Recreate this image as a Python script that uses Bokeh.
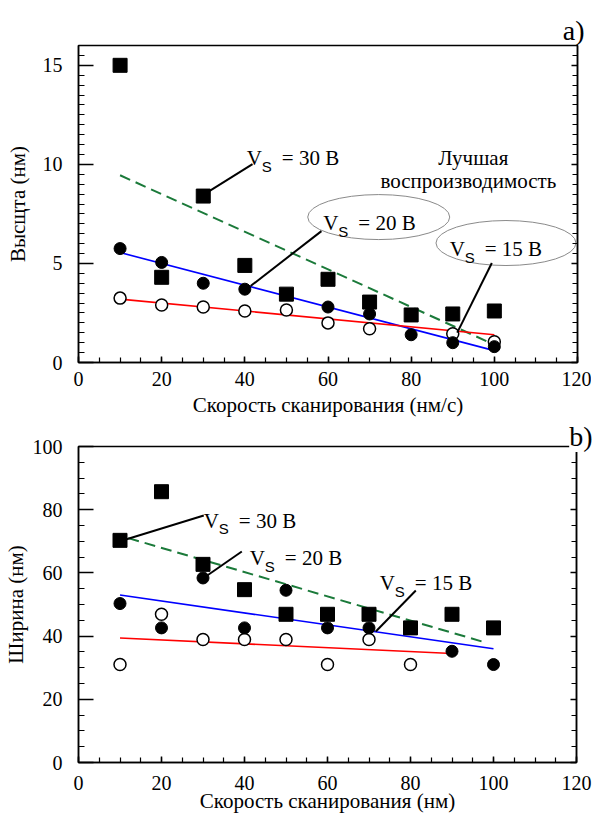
from bokeh.plotting import figure
from bokeh.layouts import column
from bokeh.models import SingleIntervalTicker, LinearAxis, CustomJSTickFormatter
from bokeh.core.properties import value
from bokeh.embed import file_html
from bokeh.resources import INLINE

# ---------------- data ----------------
# panel a: height vs scan speed
speed = [10, 20, 30, 40, 50, 60, 70, 80, 90, 100]
h_30 = [15.0, 4.3, 8.4, 4.9, 3.45, 4.2, 3.05, 2.4, 2.45, 2.6]
speed_h20 = [10, 20, 30, 40, 60, 70, 80, 90, 100]
h_20 = [5.75, 5.05, 4.0, 3.7, 2.8, 2.45, 1.4, 1.0, 0.8]
speed_h15 = [10, 20, 30, 40, 50, 60, 70, 90, 100]
h_15 = [3.25, 2.9, 2.8, 2.6, 2.65, 2.0, 1.7, 1.45, 1.05]
fit_a_x = [10, 100]
fit_a_30 = [9.45, 0.9]
fit_a_20 = [5.55, 0.6]
fit_a_15 = [3.2, 1.4]

# panel b: width vs scan speed
w_30 = [70.3, 85.7, 62.7, 54.7, 46.9, 46.9, 46.9, 42.6, 46.9, 42.6]
speed_w20 = [10, 20, 30, 40, 50, 60, 70, 90, 100]
w_20 = [50.3, 42.6, 58.4, 42.6, 54.5, 42.6, 42.6, 35.2, 31.0]
speed_w15 = [10, 20, 30, 40, 50, 60, 70, 80]
w_15 = [31.0, 46.9, 38.9, 38.9, 38.9, 31.0, 38.9, 31.0]
fit_b30_x = [12, 98]
fit_b30 = [71, 38]
fit_b20_x = [10, 100]
fit_b20 = [53, 36]
fit_b15_x = [10, 90]
fit_b15 = [39.4, 34.5]

SERIF = "Liberation Serif"
GREEN = "#1b7a3a"


def style(p, y_interval, y_minor, xl_standoff, yl_standoff, xlab_standoff):
    p.grid.visible = False
    p.outline_line_color = "black"
    p.outline_line_width = 1.5
    p.background_fill_color = "white"
    p.border_fill_color = "white"
    p.xaxis.ticker = SingleIntervalTicker(interval=20, num_minor_ticks=4)
    p.yaxis.ticker = SingleIntervalTicker(interval=y_interval, num_minor_ticks=y_minor)
    for ax in p.xaxis + p.yaxis:
        ax.axis_line_width = 1.5
        ax.major_tick_line_width = 1.5
        ax.minor_tick_line_width = 1.2
        ax.major_tick_out = 0
        ax.minor_tick_out = 0
        ax.major_label_text_font = SERIF
        ax.major_label_text_font_size = "20px"
        ax.major_label_text_color = "black"
        ax.axis_label_text_font = SERIF
        ax.axis_label_text_font_size = "21px"
        ax.axis_label_text_font_style = "normal"
        ax.axis_label_text_color = "black"
    p.xaxis.major_tick_in = 6
    p.xaxis.minor_tick_in = 5
    p.xaxis.major_label_standoff = xl_standoff
    p.xaxis.axis_label_standoff = xlab_standoff
    p.yaxis.major_tick_in = 15
    p.yaxis.minor_tick_in = 6
    p.yaxis.major_label_standoff = 16
    p.yaxis.axis_label_standoff = yl_standoff
    r = LinearAxis(ticker=SingleIntervalTicker(interval=y_interval, num_minor_ticks=y_minor),
                   formatter=CustomJSTickFormatter(code="return ''"))
    r.axis_line_width = 1.5
    r.major_tick_line_width = 1.5
    r.minor_tick_line_width = 1.2
    r.major_tick_in = 6
    r.minor_tick_in = 5
    r.major_tick_out = 0
    r.minor_tick_out = 0
    r.major_label_standoff = 0
    p.add_layout(r, "right")
    p.title.align = "right"
    p.title.text_font = SERIF
    p.title.text_font_size = "28px"
    p.title.text_font_style = "normal"
    p.title.text_color = "black"
    p.title.standoff = 0


def vs_label(p, x, y, txt):
    p.text(x=[x], y=[y], text=["V"], text_font=value(SERIF), text_font_size="21px",
           text_baseline="alphabetic", text_align="left", text_color="black")
    p.text(x=[x], y=[y], text=["S"], text_font=value("Liberation Sans"), text_font_size="15px",
           text_baseline="alphabetic", text_align="left", text_color="black",
           x_offset=15, y_offset=8)
    p.text(x=[x], y=[y], text=["= " + txt], text_font=value(SERIF), text_font_size="21px",
           text_baseline="alphabetic", text_align="left", text_color="black", x_offset=35)


# ---------------- panel a ----------------
p1 = figure(frame_width=499, frame_height=317, x_range=(0, 120), y_range=(0, 16),
            output_backend="svg", toolbar_location=None, title="a)",
            min_border_left=69, min_border_right=16, min_border_top=45, min_border_bottom=56,
            x_axis_label="Скорость сканирования (нм/с)", y_axis_label="Высщта (нм)")
style(p1, 5, 10, 9, 10, 4)
p1.title.offset = -7

p1.line(fit_a_x, fit_a_30, line_color=GREEN, line_width=2, line_dash="11 6")
p1.line(fit_a_x, fit_a_20, line_color="#0000ff", line_width=1.6)
p1.line(fit_a_x, fit_a_15, line_color="#ff0000", line_width=1.6)

p1.scatter(speed_h15, h_15, marker="circle", size=12, fill_color="white", line_color="black", line_width=1.5)
p1.scatter(speed_h20, h_20, marker="circle", size=12, fill_color="black", line_color="black")
p1.scatter(speed, h_30, marker="square", size=14, fill_color="black", line_color="black")

p1.ellipse(x=[72.2], y=[7.34], width=[142], height=[45], width_units="screen", height_units="screen",
           fill_color=None, line_color="#8a8a8a", line_width=1)
p1.ellipse(x=[102.8], y=[6.03], width=[140], height=[45], width_units="screen", height_units="screen",
           fill_color=None, line_color="#8a8a8a", line_width=1)
p1.segment(x0=[41.85, 58.42, 99.4], y0=[10.01, 6.63, 5.02], x1=[30.78, 41.39, 91.08], y1=[8.56, 3.86, 1.51],
           line_color="black", line_width=2)
vs_label(p1, 40.48, 10.31, "30 В")
vs_label(p1, 58.87, 7.04, "20 В")
vs_label(p1, 89.25, 5.71, "15 В")
p1.text(x=[94.95, 93.75], y=[10.31, 9.15], text=["Лучшая", "воспроизводимость"],
        text_font=value(SERIF), text_font_size="21px", text_baseline="alphabetic",
        text_align="center", text_color="black")

# ---------------- panel b ----------------
p2 = figure(frame_width=498, frame_height=316, x_range=(0, 120), y_range=(0, 100),
            output_backend="svg", toolbar_location=None, title="b)",
            min_border_left=68, min_border_right=18, min_border_top=27, min_border_bottom=50,
            x_axis_label="Скорость сканирования (нм)", y_axis_label="Ширина (нм)")
style(p2, 20, 4, 13, 2, -4)
p2.title.offset = -16
p2.title.standoff = -11
p2.title.background_fill_color = "white"

p2.line(fit_b30_x, fit_b30, line_color=GREEN, line_width=2, line_dash="11 6")
p2.line(fit_b20_x, fit_b20, line_color="#0000ff", line_width=1.6)
p2.line(fit_b15_x, fit_b15, line_color="#ff0000", line_width=1.6)

p2.scatter(speed_w15, w_15, marker="circle", size=12, fill_color="white", line_color="black", line_width=1.5)
p2.scatter(speed_w20, w_20, marker="circle", size=12, fill_color="black", line_color="black")
p2.scatter(speed, w_30, marker="square", size=14, fill_color="black", line_color="black")

p2.segment(x0=[30.19, 39.35, 81.28], y0=[78.16, 66.77, 54.43], x1=[10.8, 30.67, 71.64], y1=[70.35, 58.86, 41.46],
           line_color="black", line_width=2)
vs_label(p2, 30.19, 76.58, "30 В")
vs_label(p2, 41.28, 64.56, "20 В")
vs_label(p2, 72.6, 56.65, "15 В")

layout = column(p1, p2)
open("out.html", "w").write(file_html(layout, INLINE))
